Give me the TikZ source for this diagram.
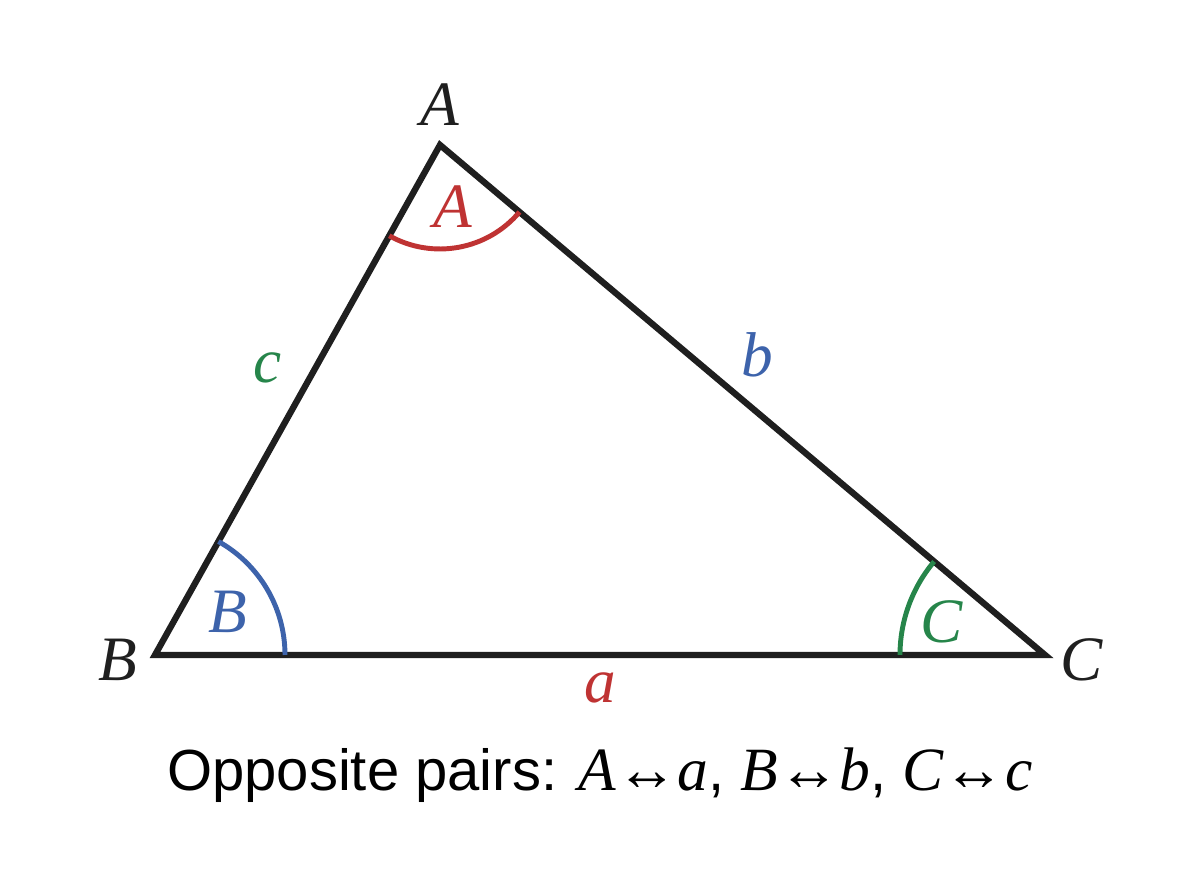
\documentclass[tikz,border=0pt]{standalone}
\usepackage{fontspec}
\setmainfont{Liberation Serif}
\setsansfont{Liberation Sans}
\usetikzlibrary{angles}
\usetikzlibrary{positioning}
\tikzset{vlabel/.style = {font=\fontsize{18}{20}\selectfont\itshape, inner sep = 0}}
\tikzset{arcmark/.style = {draw, line width = 1.4pt}}
\definecolor{mred}{rgb}{0.75, 0.20, 0.20}
\definecolor{mblue}{rgb}{0.24, 0.39, 0.67}
\definecolor{mgreen}{rgb}{0.15, 0.52, 0.29}

\begin{document}
\begin{tikzpicture}
      \useasboundingbox (0, 0) rectangle (12, 8.96);
      \coordinate (A) at (4.40, 7.51);
      \coordinate (B) at (1.55, 2.41);
      \coordinate (C) at (10.45, 2.41);
      \draw [line width = 1.8pt, line join = miter, color = black!88] (A) -- (B) -- (C) -- cycle;
      % angle arcs
      \pic [arcmark, mred, angle radius = 1.04cm] {angle = B--A--C};
      \pic [arcmark, mblue, angle radius = 1.30cm] {angle = C--B--A};
      \pic [arcmark, mgreen, angle radius = 1.45cm] {angle = A--C--B};
      \node [vlabel, mred] (angA) at (4.53, 6.89) {A};
      \node [vlabel, mblue] (angB) at (2.28, 2.84) {B};
      \node [vlabel, mgreen] (angC) at (9.42, 2.74) {C};
      % vertices
      \node [vlabel, black!88] (labA) at (4.40, 7.91) {A};
      \node [vlabel, black!88] (labB) at (1.18, 2.36) {B};
      \node [vlabel, black!88] (labC) at (10.82, 2.36) {C};
      % sides
      \node [vlabel, mgreen] (sidec) at (2.68, 5.28) {c};
      \node [vlabel, mblue] (sideb) at (7.57, 5.41) {b};
      \node [vlabel, mred] (sidea) at (6.00, 2.08) {a};
      \node [font=\fontsize{16.5}{20}\selectfont\sffamily, inner sep = 0] (caption) at (6.00, 1.21)
        {Opposite pairs: {\rmfamily\itshape\fontsize{17.5}{20}\selectfont A↔a}, {\rmfamily\itshape\fontsize{17.5}{20}\selectfont B↔b}, {\rmfamily\itshape\fontsize{17.5}{20}\selectfont C↔c}};
\end{tikzpicture}
\end{document}
